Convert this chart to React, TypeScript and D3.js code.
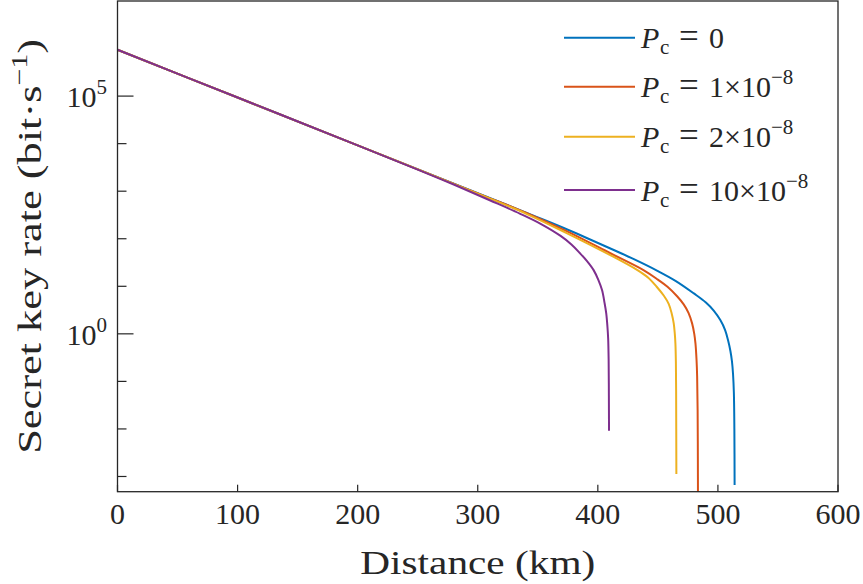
import React from "react";
import * as d3 from "d3";

// ---------- data (distance in km, log10 of secret key rate in bit/s) ----------
const DIST_TICKS = [0, 100, 200, 300, 400, 500, 600];
const Y_TICK_EXPONENTS = [-3, -2, -1, 0, 1, 2, 3, 4, 5];
const Y_LABELED_EXPONENTS = [0, 5];

const BLUE_DIST = [0, 100, 200, 300, 350, 375, 410, 430, 450, 465, 480, 490, 496.5, 502, 506, 508.5, 510.4, 511.7, 512.6, 513.3, 513.7, 513.9];
const BLUE_LOG = [5.975, 4.97, 3.965, 2.96, 2.45, 2.19, 1.8, 1.57, 1.32, 1.11, 0.85, 0.66, 0.49, 0.29, 0.08, -0.14, -0.36, -0.58, -0.85, -1.25, -2.0, -3.18];

const RED_DIST = [0, 100, 200, 300, 340, 374, 410, 438, 450, 458, 466, 471.5, 475.5, 478.5, 480.3, 481.3, 482.2, 482.7, 483.1, 483.3, 483.4];
const RED_LOG = [5.975, 4.97, 3.965, 2.955, 2.55, 2.16, 1.7, 1.34, 1.14, 0.99, 0.79, 0.62, 0.44, 0.22, 0.0, -0.2, -0.55, -0.9, -1.6, -2.6, -3.6];

const YELLOW_DIST = [0, 100, 200, 300, 340, 374, 410, 433, 442, 449, 455, 459, 461.5, 463.2, 464.1, 464.6, 465, 465.2, 465.3, 465.4];
const YELLOW_LOG = [5.975, 4.97, 3.965, 2.95, 2.53, 2.12, 1.66, 1.34, 1.18, 0.99, 0.8, 0.63, 0.43, 0.22, 0.0, -0.2, -0.6, -1.2, -2.0, -2.95];

const PURPLE_DIST = [0, 100, 200, 250, 280, 310, 335, 352, 369, 378, 385, 391, 396.5, 400.5, 403.5, 405.6, 407, 408, 408.6, 409, 409.2, 409.3];
const PURPLE_LOG = [5.975, 4.97, 3.965, 3.455, 3.14, 2.81, 2.53, 2.32, 2.06, 1.88, 1.7, 1.53, 1.34, 1.13, 0.92, 0.65, 0.43, 0.15, -0.1, -0.55, -1.3, -2.04];

const SERIES_DIST = [BLUE_DIST, RED_DIST, YELLOW_DIST, PURPLE_DIST];
const SERIES_LOG = [BLUE_LOG, RED_LOG, YELLOW_LOG, PURPLE_LOG];
const SERIES_COLORS = ["#0072BD", "#D95319", "#EDB120", "#7E2F8E"];
const LEGEND_VALUES = ["0", "1\u00D710", "2\u00D710", "10\u00D710"];
const LEGEND_EXPONENTS = ["", "\u22128", "\u22128", "\u22128"];

// ---------- layout ----------
const W = 863;
const H = 584;
const M = { left: 117.5, right: 838, top: 1, bottom: 491.7 };
const AXIS = "#262626";
const FONT = "'Liberation Serif', 'Times New Roman', serif";

export default function App() {
  const x = d3.scaleLinear().domain([0, 600]).range([M.left, M.right]);
  const y = d3.scaleLog().domain([Math.pow(10, -3.32), 1e7]).range([M.bottom, M.top]);

  const line = d3
    .line<[number, number]>()
    .x((d) => x(d[0]))
    .y((d) => y(Math.pow(10, d[1])))
    .curve(d3.curveCatmullRom.alpha(0.5));

  const legendY = [37.7, 86.7, 136.7, 190];

  return (
    <svg
      width={W}
      height={H}
      viewBox={`0 0 ${W} ${H}`}
      style={{ position: "absolute", left: 0, top: 0, background: "#fff" }}
      fontFamily={FONT}
    >
      <rect x={0} y={0} width={W} height={H} fill="#fff" />
      <defs>
        <clipPath id="plot-clip">
          <rect x={M.left} y={M.top} width={M.right - M.left} height={M.bottom - M.top} />
        </clipPath>
      </defs>

      {/* series */}
      <g clipPath="url(#plot-clip)">
        {SERIES_DIST.map((dist, i) => {
          const pts = dist.map((d, j) => [d, SERIES_LOG[i][j]] as [number, number]);
          return (
            <path
              key={i}
              d={line(pts) || ""}
              fill="none"
              stroke={SERIES_COLORS[i]}
              strokeWidth={2}
              strokeLinejoin="round"
            />
          );
        })}
      </g>

      {/* frame */}
      <rect
        x={M.left}
        y={M.top}
        width={M.right - M.left}
        height={M.bottom - M.top}
        fill="none"
        stroke={AXIS}
        strokeWidth={1.3}
      />

      {/* x ticks */}
      {DIST_TICKS.map((t) => (
        <g key={t}>
          <line x1={x(t)} x2={x(t)} y1={M.bottom} y2={M.bottom - 7} stroke={AXIS} strokeWidth={1.2} />
          <text x={x(t)} y={524} textAnchor="middle" fontSize={30} fill={AXIS}>
            {t}
          </text>
        </g>
      ))}

      {/* y ticks */}
      {Y_TICK_EXPONENTS.map((e) => {
        const yy = y(Math.pow(10, e));
        const major = Y_LABELED_EXPONENTS.includes(e);
        return (
          <g key={e}>
            <line
              x1={M.left}
              x2={M.left + (major ? 16 : 9)}
              y1={yy}
              y2={yy}
              stroke={AXIS}
              strokeWidth={1.2}
            />
            {major && (
              <text x={107} y={yy + 11} textAnchor="end" fontSize={30} fill={AXIS}>
                10
                <tspan dy={-13} fontSize={21}>
                  {e}
                </tspan>
              </text>
            )}
          </g>
        );
      })}

      {/* axis labels */}
      <text
        x={(M.left + M.right) / 2}
        y={574}
        textAnchor="middle"
        fontSize={34}
        fill={AXIS}
        textLength={235}
        lengthAdjust="spacingAndGlyphs"
      >
        Distance (km)
      </text>
      <text
        transform={`translate(41, ${(M.top + M.bottom) / 2}) rotate(-90)`}
        textAnchor="middle"
        fontSize={34}
        fill={AXIS}
        textLength={415}
        lengthAdjust="spacingAndGlyphs"
      >
        Secret key rate (bit·s
        <tspan dy={-14} fontSize={23}>
          {"\u22121"}
        </tspan>
        <tspan dy={14}>)</tspan>
      </text>

      {/* legend */}
      {SERIES_COLORS.map((c, i) => (
        <g key={i}>
          <line x1={564} x2={635} y1={legendY[i]} y2={legendY[i]} stroke={c} strokeWidth={2} />
          <text y={legendY[i] + 10.5} fontSize={30} fill={AXIS}>
            <tspan x={641} fontStyle="italic">P</tspan>
            <tspan x={660} dy={6} fontSize={21}>c</tspan>
            <tspan x={679} dy={-6} fontSize={35}>=</tspan>
            <tspan x={709}>{LEGEND_VALUES[i]}</tspan>
            {LEGEND_EXPONENTS[i] && (
              <tspan dy={-13} fontSize={21}>
                {LEGEND_EXPONENTS[i]}
              </tspan>
            )}
          </text>
        </g>
      ))}
    </svg>
  );
}
